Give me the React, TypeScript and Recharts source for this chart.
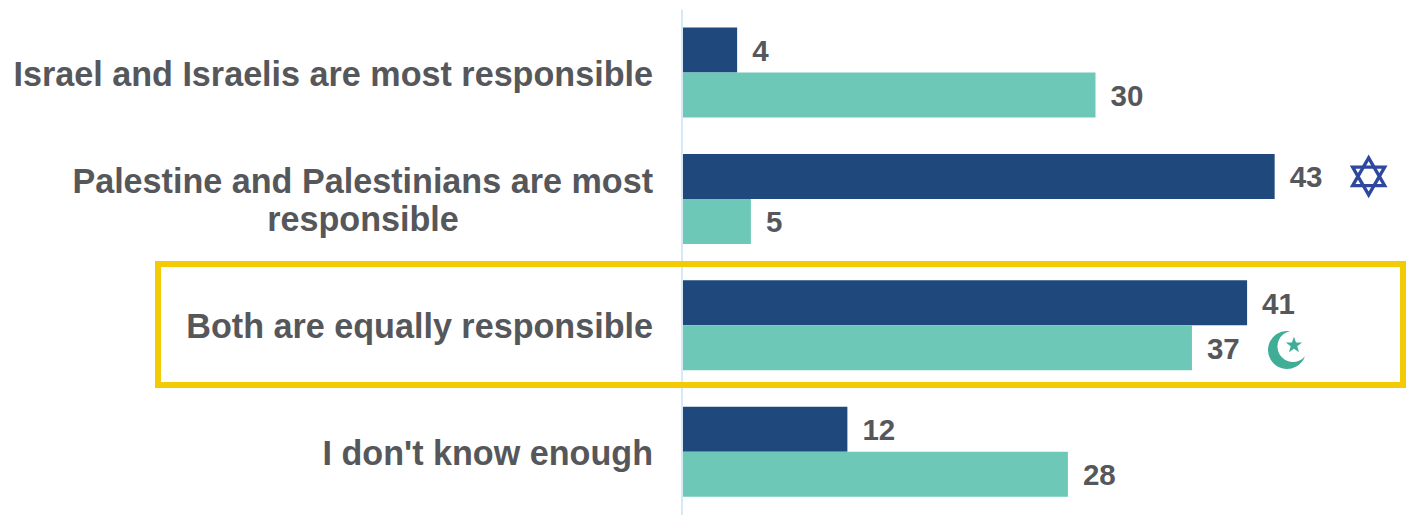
import { BarChart, Bar, XAxis, YAxis, LabelList } from "recharts";

const categories = [
  "Israel and Israelis are most responsible",
  "Palestine and Palestinians are most|responsible",
  "Both are equally responsible",
  "I don't know enough",
];
const jewishValues = [4, 43, 41, 12];
const muslimValues = [30, 5, 37, 28];

const NAVY = "#1F497D";
const TEAL = "#6EC8B8";
const TEXT = "#56575B";
const FONT = "'Liberation Sans', Arial, sans-serif";

const chartData = categories.map((category, i) => ({
  category,
  jewish: jewishValues[i],
  muslim: muslimValues[i],
}));

function CategoryTick({ x, y, payload }: any) {
  const lines: string[] = payload.value.split("|");
  if (lines.length === 1) {
    return (
      <text x={x - 21} y={y + 13} textAnchor="end" fontFamily={FONT} fontSize={34.15} fontWeight={700} fill={TEXT}>
        {lines[0]}
      </text>
    );
  }
  // two-line label: first line flush right, second centred under it
  return (
    <text fontFamily={FONT} fontSize={34.15} fontWeight={700} fill={TEXT}>
      <tspan x={x - 21} y={y - 6} textAnchor="end">{lines[0]}</tspan>
      <tspan x={x - 311} y={y + 32} textAnchor="middle">{lines[1]}</tspan>
    </text>
  );
}

function StarOfDavid({ cx, cy }: { cx: number; cy: number }) {
  const r = 18.5;
  const dx = r * 0.866;
  return (
    <g fill="none" stroke="#2E479F" strokeWidth={3.3} strokeLinejoin="miter">
      <polygon points={`${cx},${cy - r} ${cx + dx},${cy + r / 2} ${cx - dx},${cy + r / 2}`} />
      <polygon points={`${cx},${cy + r} ${cx + dx},${cy - r / 2} ${cx - dx},${cy - r / 2}`} />
    </g>
  );
}

function CrescentStar({ cx, cy }: { cx: number; cy: number }) {
  const points: string[] = [];
  for (let i = 0; i < 10; i++) {
    const r = i % 2 === 0 ? 8.5 : 3.5;
    const a = -Math.PI / 2 + (i * Math.PI) / 5;
    points.push(`${cx + 8 + r * Math.cos(a)},${cy - 4.5 + r * Math.sin(a)}`);
  }
  return (
    <g fill="#41AD96">
      <path
        d={`M ${cx + 4} ${cy - 18.5} A 19 19 0 1 0 ${cx + 19} ${cy + 6.5} A 15.5 15.5 0 1 1 ${cx + 4} ${cy - 18.5} Z`}
      />
      <polygon points={points.join(" ")} />
    </g>
  );
}

function ValueLabel({ x, y, width, height, value, icon }: any) {
  const end = x + width;
  const mid = y + height / 2;
  return (
    <g>
      <text x={end + 15} y={mid + 11} fontFamily={FONT} fontSize={29.5} fontWeight={700} fill={TEXT}>
        {value}
      </text>
      {icon === "star" && <StarOfDavid cx={end + 94} cy={mid} />}
      {icon === "crescent" && <CrescentStar cx={end + 94} cy={mid + 2} />}
    </g>
  );
}

export default function App() {
  return (
    <div style={{ position: "absolute", left: 0, top: 0, width: 1408, height: 515, background: "#fff" }}>
      <BarChart
        width={1408}
        height={515}
        data={chartData}
        layout="vertical"
        margin={{ top: 9.5, right: 9.3, bottom: 0, left: 0 }}
        barGap={0}
        barSize={45}
      >
        <XAxis type="number" domain={[0, 52]} hide />
        <YAxis
          dataKey="category"
          type="category"
          width={682}
          interval={0}
          axisLine={{ stroke: "#D6E9F6", strokeWidth: 2 }}
          tickLine={false}
          tick={<CategoryTick />}
        />
        <Bar dataKey="jewish" fill={NAVY} isAnimationActive={false}>
          <LabelList
            dataKey="jewish"
            content={(p: any) => <ValueLabel {...p} icon={p.index === 1 ? "star" : undefined} />}
          />
        </Bar>
        <Bar dataKey="muslim" fill={TEAL} isAnimationActive={false}>
          <LabelList
            dataKey="muslim"
            content={(p: any) => <ValueLabel {...p} icon={p.index === 2 ? "crescent" : undefined} />}
          />
        </Bar>
      </BarChart>
      {/* highlight around the "equally responsible" row */}
      <div
        style={{
          position: "absolute",
          left: 155,
          top: 261,
          width: 1251,
          height: 127,
          boxSizing: "border-box",
          border: "6px solid #F2CB05",
          pointerEvents: "none",
        }}
      />
    </div>
  );
}
